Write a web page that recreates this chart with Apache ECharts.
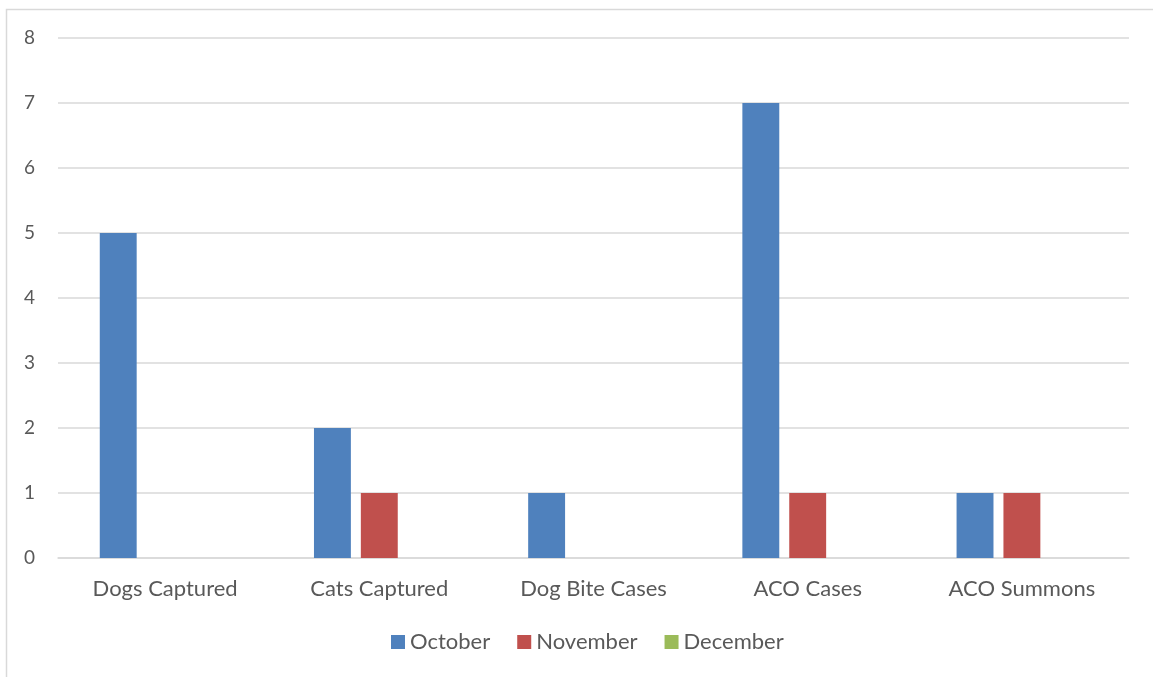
<!DOCTYPE html>
<html><head><meta charset="utf-8">
<script src="https://cdn.jsdelivr.net/npm/echarts@6/dist/echarts.min.js"></script>
<style>html,body{margin:0;padding:0;background:#fff;}#c{width:1153px;height:677px;}</style>
</head><body><div id="c"></div>
<script>
const categories = ['Dogs Captured','Cats Captured','Dog Bite Cases','ACO Cases','ACO Summons'];
const october = [5,2,1,7,1];
const november = [0,1,0,1,1];
const december = [0,0,0,0,0];
const seriesNames = ['October','November','December'];
const colors = ['#4F81BD','#C0504D','#9BBB59'];
const font = 'Lato, "Open Sans", sans-serif';
const chart = echarts.init(document.getElementById('c'), null, {renderer:'canvas'});
const data = [october, november, december];
chart.setOption({
  animation:false,
  color: colors,
  graphic:[{type:'rect',shape:{x:6.5,y:9.5,width:1200,height:700},style:{fill:'none',stroke:'#d9d9d9',lineWidth:1.5},silent:true}],
  grid:{left:58,right:24,top:38,bottom:119},
  legend:{bottom:24,left:391,padding:0,itemWidth:14,itemHeight:14,itemGap:27,icon:'rect',
    textStyle:{color:'#595959',fontSize:22,fontFamily:font},data:seriesNames},
  xAxis:{type:'category',data:categories,axisTick:{show:false},
    axisLine:{lineStyle:{color:'#d9d9d9',width:1.5}},
    axisLabel:{color:'#595959',fontSize:22,fontFamily:font,margin:20}},
  yAxis:{type:'value',min:0,max:8,interval:1,
    axisLine:{show:false},axisTick:{show:false},
    splitLine:{lineStyle:{color:'#d9d9d9',width:1.5}},
    axisLabel:{color:'#595959',fontSize:19,fontFamily:font,margin:23}},
  series: seriesNames.map((n,i)=>({name:n,type:'bar',data:data[i],barCategoryGap:'39%',barGap:'27%'}))
});
</script></body></html>
